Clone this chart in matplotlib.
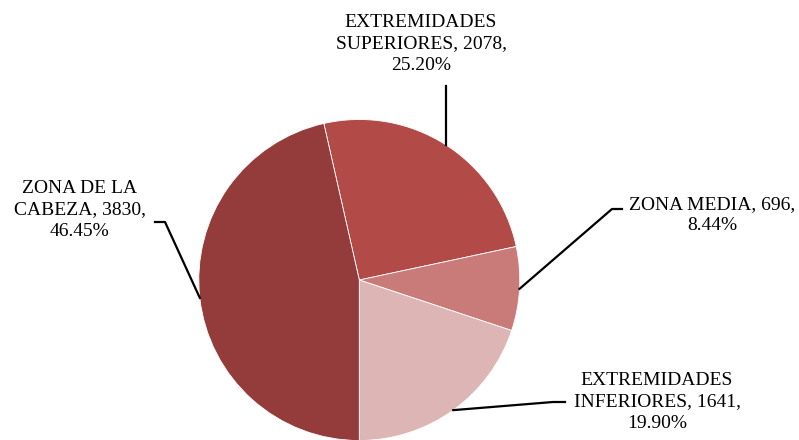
import textwrap
import numpy as np
import matplotlib.pyplot as plt
from matplotlib.lines import Line2D
from matplotlib.transforms import IdentityTransform

categories = ['EXTREMIDADES SUPERIORES', 'ZONA MEDIA', 'EXTREMIDADES INFERIORES', 'ZONA DE LA CABEZA']
counts = [2078, 696, 1641, 3830]
colors = ['#B24B48', '#C97B7A', '#DEB5B5', '#943C3C']

W, H = 799, 440
fig = plt.figure(figsize=(W / 100, H / 100), dpi=100)

# pie centre / radius in pixels (from top-left)
cx, cy, r = 359.3, 280.0, 160.5
ax = fig.add_axes([(cx - r) / W, (H - cy - r) / H, 2 * r / W, 2 * r / H])

total = sum(counts)
fracs = np.array(counts) / total
start = -90 + 360 * fracs[:3].sum()

wedges, _ = ax.pie(counts, colors=colors, startangle=start, counterclock=False,
                   radius=1, wedgeprops=dict(edgecolor='white', linewidth=0.6))
ax.set_xlim(-1, 1)
ax.set_ylim(-1, 1)
ax.set_aspect('auto')
ax.axis('off')

# label layout: wrap width, text centre (px), leader elbow points (px, None = wedge x)
wrap_w = [17, 16, 17, 13]
text_pos = [(421, 44), (712, 215), (657, 402), (80, 210)]
elbows = [[(None, 86)],
          [(622, 209), (612, 209)],
          [(565, 402), (553, 402)],
          [(155, 222), (165, 222)]]

fig.canvas.draw()
for i, w in enumerate(wedges):
    pct = 100 * fracs[i]
    txt = '\n'.join(textwrap.wrap(f'{categories[i]}, {counts[i]}, {pct:.2f}%', wrap_w[i]))
    tx, ty = text_pos[i]
    fig.text(tx / W, 1 - ty / H, txt, ha='center', va='center', multialignment='center',
             fontsize=14, family='Liberation Serif', linespacing=1.32, color='black')
    mid = np.deg2rad((w.theta1 + w.theta2) / 2)
    px, py = ax.transData.transform((np.cos(mid), np.sin(mid)))
    xs = [px if p[0] is None else p[0] for p in elbows[i]] + [px]
    ys = [H - p[1] for p in elbows[i]] + [py]
    fig.add_artist(Line2D(xs, ys, transform=IdentityTransform(), color='black', lw=1.6))

fig.savefig('out.png', dpi=100)
